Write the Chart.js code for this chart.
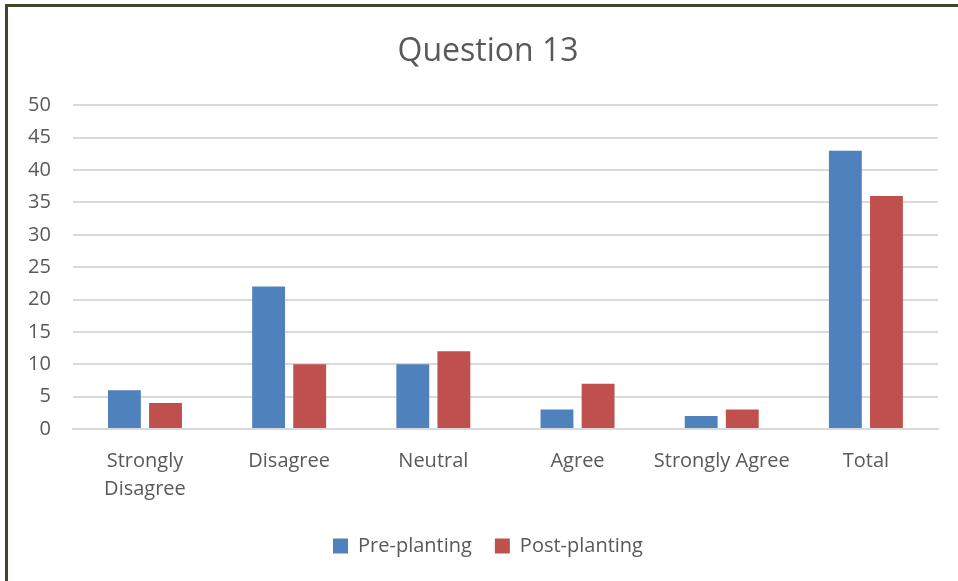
<!DOCTYPE html>
<html>
<head>
<meta charset="utf-8">
<script src="https://cdn.jsdelivr.net/npm/chart.js"></script>
<style>
  html, body { margin: 0; padding: 0; background: #fff; overflow: hidden; }
  #frame {
    position: absolute; left: 5px; top: 4px; width: 1000px; height: 640px;
    border-left: 3px solid #3b4a27; border-top: 3px solid #3b4a27;
  }
  #wrap { position: absolute; left: 0; top: 0; width: 958px; height: 581px; }
</style>
</head>
<body>
<div id="frame"></div>
<div id="wrap"><canvas id="chart"></canvas></div>
<script>
// values
const categories = [['Strongly', 'Disagree'], 'Disagree', 'Neutral', 'Agree', 'Strongly Agree', 'Total'];
const prePlanting = [6, 22, 10, 3, 2, 43];
const postPlanting = [4, 10, 12, 7, 3, 36];
const yTicks = [0, 5, 10, 15, 20, 25, 30, 35, 40, 45, 50];

const textColor = '#595959';
const fontFamily = '"Open Sans", "Noto Sans", sans-serif';

// the original centres title and legend a bit right of the canvas middle
const shiftBlocks = {
  id: 'shiftBlocks',
  afterLayout(chart) {
    [chart.titleBlock, chart.legend].forEach(box => {
      if (!box) return;
      box.left += 16;
      box.right += 16;
    });
  }
};

const config = {
  type: 'bar',
  data: {
    labels: categories,
    datasets: [{
      label: 'Pre-planting',
      backgroundColor: '#4f81bd',
      data: prePlanting,
    }, {
      label: 'Post-planting',
      backgroundColor: '#c0504d',
      data: postPlanting,
    }]
  },
  options: {
    responsive: false,
    animation: false,
    layout: { padding: { left: 6, right: 20, top: 16, bottom: 15 } },
    datasets: { bar: { categoryPercentage: 0.57, barPercentage: 0.8 } },
    plugins: {
      title: {
        display: true,
        text: 'Question 13',
        color: textColor,
        font: { family: fontFamily, size: 32, weight: 'normal' },
        padding: { top: 17, bottom: 34 }
      },
      legend: {
        position: 'bottom',
        labels: {
          color: textColor,
          font: { family: fontFamily, size: 20 },
          boxWidth: 15, boxHeight: 15,
          padding: 23
        }
      },
      tooltip: { enabled: false }
    },
    scales: {
      x: {
        grid: { display: false },
        border: { color: '#d9d9d9', width: 2 },
        ticks: {
          color: textColor,
          font: { family: fontFamily, size: 20, lineHeight: 1.4 },
          padding: 10,
          maxRotation: 0
        }
      },
      y: {
        min: 0, max: 50,
        afterBuildTicks: (axis) => { axis.ticks = yTicks.map(v => ({ value: v })); },
        grid: { color: '#d9d9d9', lineWidth: 2, drawTicks: false },
        border: { display: false },
        ticks: {
          color: textColor,
          font: { family: fontFamily, size: 20 },
          padding: 22
        }
      }
    }
  },
  plugins: [shiftBlocks]
};

const canvas = document.getElementById('chart');
canvas.width = 958;
canvas.height = 581;
new Chart(canvas.getContext('2d'), config);
</script>
</body>
</html>
